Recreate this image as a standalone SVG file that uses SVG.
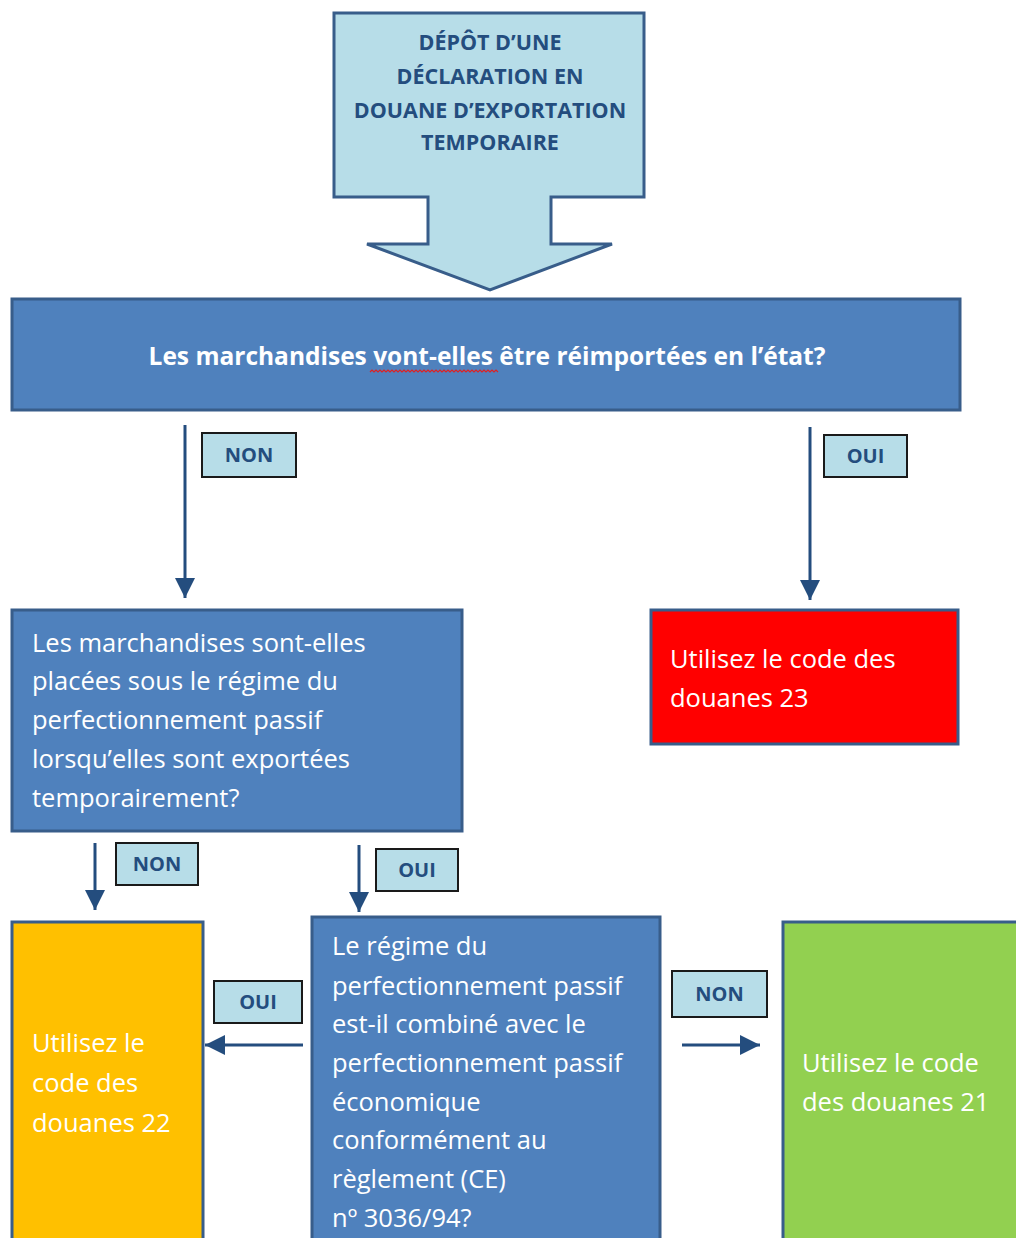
<svg xmlns="http://www.w3.org/2000/svg" width="1016" height="1238" viewBox="0 0 1016 1238">
  <style>
    .q { fill: #4f81bd; stroke: #385d8a; stroke-width: 3; }
    .lbl rect { fill: #b7dde8; stroke: #1a1a1a; stroke-width: 2; }
    .lbl text { font-family: "Open Sans", "Liberation Sans", sans-serif; font-weight: bold; font-size: 20px; fill: #244d7e; text-anchor: middle; }
    .head { font-family: "Open Sans", "Liberation Sans", sans-serif; font-weight: bold; font-size: 21.5px; fill: #244d7e; text-anchor: middle; }
    .body { font-family: "Open Sans", "Liberation Sans", sans-serif; font-size: 25.5px; fill: #ffffff; }
    .ttl { font-family: "Open Sans", "Liberation Sans", sans-serif; font-weight: bold; font-size: 24.5px; fill: #ffffff; text-anchor: middle; }
    .conn line { stroke: #244d7e; stroke-width: 3; }
  </style>
  <defs>
    <marker id="ah" viewBox="0 0 10 10" refX="10" refY="5" markerWidth="20" markerHeight="20" orient="auto" markerUnits="userSpaceOnUse">
      <path d="M0,0 L10,5 L0,10 z" fill="#244d7e"/>
    </marker>
  </defs>
  <rect width="1016" height="1238" fill="#ffffff"/>

  <!-- start: block arrow -->
  <g id="depot">
    <path d="M334,13 H644 V197 H551 V244 H612 L490,290 L367,244 H428 V197 H334 Z" fill="#b7dde8" stroke="#385d8a" stroke-width="3"/>
    <text class="head" x="490" y="50">DÉPÔT D’UNE</text>
    <text class="head" x="490" y="84">DÉCLARATION EN</text>
    <text class="head" x="490" y="118">DOUANE D’EXPORTATION</text>
    <text class="head" x="490" y="150">TEMPORAIRE</text>
  </g>

  <!-- question 1 -->
  <g id="q-reimport">
    <rect class="q" x="12" y="299" width="948" height="111"/>
    <text class="ttl" x="487" y="365">Les marchandises vont-elles être réimportées en l’état?</text>
    <path d="M370,372 l2,-2 l2,2 l2,-2 l2,2 l2,-2 l2,2 l2,-2 l2,2 l2,-2 l2,2 l2,-2 l2,2 l2,-2 l2,2 l2,-2 l2,2 l2,-2 l2,2 l2,-2 l2,2 l2,-2 l2,2 l2,-2 l2,2 l2,-2 l2,2 l2,-2 l2,2 l2,-2 l2,2 l2,-2 l2,2 l2,-2 l2,2 l2,-2 l2,2 l2,-2 l2,2 l2,-2 l2,2 l2,-2 l2,2 l2,-2 l2,2 l2,-2 l2,2 l2,-2 l2,2 l2,-2 l2,2 l2,-2 l2,2 l2,-2 l2,2 l2,-2 l2,2 l2,-2 l2,2 l2,-2 l2,2 l2,-2 l2,2 l2,-2 l2,2" fill="none" stroke="#e02020" stroke-width="1.2"/>
  </g>

  <!-- question 2 -->
  <g id="q-passif">
    <rect class="q" x="12" y="610" width="450" height="221"/>
    <text class="body" x="32" y="652">Les marchandises sont-elles</text>
    <text class="body" x="32" y="690">placées sous le régime du</text>
    <text class="body" x="32" y="729">perfectionnement passif</text>
    <text class="body" x="32" y="768">lorsqu’elles sont exportées</text>
    <text class="body" x="32" y="807">temporairement?</text>
  </g>

  <!-- outcome 23 -->
  <g id="code-23">
    <rect x="651" y="610" width="307" height="134" fill="#ff0000" stroke="#385d8a" stroke-width="3"/>
    <text class="body" x="670" y="668">Utilisez le code des</text>
    <text class="body" x="670" y="707">douanes 23</text>
  </g>

  <!-- outcome 22 -->
  <g id="code-22">
    <rect x="12" y="922" width="191" height="330" fill="#ffc000" stroke="#385d8a" stroke-width="3"/>
    <text class="body" x="32" y="1052">Utilisez le</text>
    <text class="body" x="32" y="1092">code des</text>
    <text class="body" x="32" y="1132">douanes 22</text>
  </g>

  <!-- question 3 -->
  <g id="q-combine">
    <rect class="q" x="312" y="917" width="348" height="335"/>
    <text class="body" x="332" y="955">Le régime du</text>
    <text class="body" x="332" y="995">perfectionnement passif</text>
    <text class="body" x="332" y="1033">est-il combiné avec le</text>
    <text class="body" x="332" y="1072">perfectionnement passif</text>
    <text class="body" x="332" y="1111">économique</text>
    <text class="body" x="332" y="1149">conformément au</text>
    <text class="body" x="332" y="1188">règlement (CE)</text>
    <text class="body" x="332" y="1227">nº 3036/94?</text>
  </g>

  <!-- outcome 21 -->
  <g id="code-21">
    <rect x="783" y="922" width="250" height="330" fill="#92d050" stroke="#385d8a" stroke-width="3"/>
    <text class="body" x="802" y="1072">Utilisez le code</text>
    <text class="body" x="802" y="1111">des douanes 21</text>
  </g>

  <!-- connectors -->
  <g id="connectors" class="conn">
    <line x1="185" y1="425" x2="185" y2="598" marker-end="url(#ah)"/>
    <line x1="810" y1="427" x2="810" y2="600" marker-end="url(#ah)"/>
    <line x1="95" y1="843" x2="95" y2="910" marker-end="url(#ah)"/>
    <line x1="359" y1="845" x2="359" y2="912" marker-end="url(#ah)"/>
    <line x1="303" y1="1045" x2="205" y2="1045" marker-end="url(#ah)"/>
    <line x1="682" y1="1045" x2="760" y2="1045" marker-end="url(#ah)"/>
  </g>

  <!-- connector labels -->
  <g id="labels">
    <g class="lbl"><rect x="202" y="433" width="94" height="44"/><text x="249" y="462">NON</text></g>
    <g class="lbl"><rect x="824" y="435" width="83" height="42"/><text x="865.5" y="463">OUI</text></g>
    <g class="lbl"><rect x="116" y="843" width="82" height="42"/><text x="157" y="871">NON</text></g>
    <g class="lbl"><rect x="376" y="849" width="82" height="42"/><text x="417" y="877">OUI</text></g>
    <g class="lbl"><rect x="214" y="981" width="88" height="42"/><text x="258" y="1009">OUI</text></g>
    <g class="lbl"><rect x="672" y="971" width="95" height="46"/><text x="719.5" y="1001">NON</text></g>
  </g>
</svg>
